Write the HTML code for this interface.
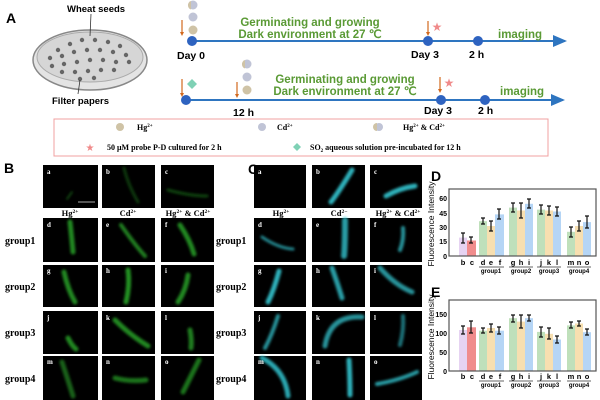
<!DOCTYPE html>
<html><head><meta charset="utf-8"><style>
html,body{margin:0;padding:0;background:#fff}
svg{display:block}
.s{font-family:"Liberation Sans",sans-serif;font-weight:bold}
.r{font-family:"Liberation Serif",serif;font-weight:bold}
.g{fill:#5a9a35;font-family:"Liberation Sans",sans-serif;font-weight:bold;font-size:11.5px}
</style></head><body>
<svg width="600" height="400" viewBox="0 0 600 400" xmlns="http://www.w3.org/2000/svg">
<defs>
<filter id="bl"><feGaussianBlur stdDeviation="1.4"/></filter>
<marker id="ah" markerWidth="8" markerHeight="8" refX="6" refY="3" orient="auto"><path d="M0,0 L7,3 L0,6 z" fill="#2e75c0"/></marker>
</defs>
<!-- Panel A -->
<text x="6" y="23" class="s" font-size="14">A</text>
<text x="67" y="12" class="s" font-size="9.5">Wheat seeds</text>
<ellipse cx="90" cy="60" rx="57" ry="30" fill="#e4e4e4" stroke="#888" stroke-width="1.5"/>
<ellipse cx="90" cy="57" rx="53" ry="25" fill="#d6d6d6" stroke="#aaa" stroke-width="1"/>
<g fill="#666">
<circle cx="58" cy="50" r="2.2"/><circle cx="70" cy="44" r="2.2"/><circle cx="82" cy="40" r="2.2"/><circle cx="95" cy="40" r="2.2"/><circle cx="108" cy="42" r="2.2"/><circle cx="120" cy="46" r="2.2"/>
<circle cx="50" cy="58" r="2.2"/><circle cx="62" cy="56" r="2.2"/><circle cx="74" cy="52" r="2.2"/><circle cx="87" cy="50" r="2.2"/><circle cx="100" cy="50" r="2.2"/><circle cx="113" cy="52" r="2.2"/><circle cx="126" cy="55" r="2.2"/>
<circle cx="52" cy="66" r="2.2"/><circle cx="64" cy="64" r="2.2"/><circle cx="77" cy="62" r="2.2"/><circle cx="90" cy="60" r="2.2"/><circle cx="103" cy="60" r="2.2"/><circle cx="116" cy="62" r="2.2"/><circle cx="129" cy="62" r="2.2"/>
<circle cx="62" cy="72" r="2.2"/><circle cx="75" cy="72" r="2.2"/><circle cx="88" cy="71" r="2.2"/><circle cx="101" cy="70" r="2.2"/><circle cx="114" cy="70" r="2.2"/>
<circle cx="80" cy="79" r="2.2"/><circle cx="94" cy="78" r="2.2"/>
</g>
<line x1="91" y1="14" x2="90" y2="36" stroke="#333" stroke-width="0.8"/>
<line x1="80" y1="80" x2="78" y2="94" stroke="#333" stroke-width="0.8"/>
<text x="52" y="104" class="s" font-size="9.5">Filter papers</text>

<!-- timeline 1 -->
<line x1="190" y1="41" x2="565" y2="41" stroke="#2e75c0" stroke-width="2" marker-end="url(#ah)"/>
<circle cx="192" cy="41" r="5" fill="#2e63c0"/><circle cx="428" cy="41" r="5" fill="#2e63c0"/><circle cx="478" cy="41" r="5" fill="#2e63c0"/>
<circle cx="193" cy="5" r="4.5" fill="#c0c4d6"/><path d="M191,1 A4.5,4.5 0 0 0 191,9.5z" fill="#cfc3a6"/>
<circle cx="193" cy="17" r="4.5" fill="#c0c4d6"/><circle cx="193" cy="30" r="4.5" fill="#cfc3a6"/>
<line x1="182" y1="20" x2="182" y2="34" stroke="#d2691e" stroke-width="1.2"/><path d="M180,32 L182,36 L184,32z" fill="#d2691e"/>
<text x="310" y="26" class="g" text-anchor="middle">Germinating and growing</text>
<text x="310" y="38" class="g" text-anchor="middle">Dark environment at 27 ℃</text>
<text x="177" y="59" class="s" font-size="10.5">Day 0</text>
<line x1="428" y1="21" x2="428" y2="34" stroke="#d2691e" stroke-width="1.2"/><path d="M426,32 L428,36 L430,32z" fill="#d2691e"/>
<text x="437" y="31" fill="#f08a8a" font-size="12" text-anchor="middle">★</text>
<text x="411" y="58" class="s" font-size="10.5">Day 3</text>
<text x="469" y="58" class="s" font-size="10.5">2 h</text>
<text x="498" y="38" class="g">imaging</text>

<!-- timeline 2 -->
<line x1="184" y1="100" x2="563" y2="100" stroke="#2e75c0" stroke-width="2" marker-end="url(#ah)"/>
<circle cx="186" cy="100" r="5" fill="#2e63c0"/><circle cx="441" cy="100" r="5" fill="#2e63c0"/><circle cx="485" cy="100" r="5" fill="#2e63c0"/>
<line x1="182" y1="79" x2="182" y2="95" stroke="#d2691e" stroke-width="1.2"/><path d="M180,93 L182,97 L184,93z" fill="#d2691e"/>
<path d="M192,79 L197,84 L192,89 L187,84z" fill="#7fd1b5"/>
<circle cx="247" cy="64" r="4.5" fill="#c0c4d6"/><path d="M245,60 A4.5,4.5 0 0 0 245,68.5z" fill="#cfc3a6"/><circle cx="247" cy="77" r="4.5" fill="#c0c4d6"/><circle cx="247" cy="90" r="4.5" fill="#cfc3a6"/>
<line x1="237" y1="82" x2="237" y2="96" stroke="#d2691e" stroke-width="1.2"/><path d="M235,94 L237,98 L239,94z" fill="#d2691e"/>
<text x="345" y="83" class="g" text-anchor="middle">Germinating and growing</text>
<text x="345" y="95" class="g" text-anchor="middle">Dark environment at 27 ℃</text>
<text x="233" y="116" class="s" font-size="10.5">12 h</text>
<line x1="440" y1="77" x2="440" y2="91" stroke="#d2691e" stroke-width="1.2"/><path d="M438,89 L440,93 L442,89z" fill="#d2691e"/>
<text x="449" y="87" fill="#f08a8a" font-size="12" text-anchor="middle">★</text>
<text x="424" y="114" class="s" font-size="10.5">Day 3</text>
<text x="478" y="114" class="s" font-size="10.5">2 h</text>
<text x="500" y="95" class="g">imaging</text>

<!-- legend -->
<rect x="54" y="119" width="494" height="37" fill="#fff" stroke="#f0a0a0" stroke-width="1"/>
<circle cx="120" cy="127" r="4" fill="#cfc3a6"/><text x="137" y="130" class="r" font-size="8">Hg<tspan font-size="5" dy="-3">2+</tspan></text>
<circle cx="262" cy="127" r="4" fill="#c0c4d6"/><text x="277" y="130" class="r" font-size="8">Cd<tspan font-size="5" dy="-3">2+</tspan></text>
<circle cx="379" cy="127" r="4" fill="#c0c4d6"/><path d="M377,123 A4,4 0 0 0 377,131z" fill="#cfc3a6"/><text x="403" y="130" class="r" font-size="8">Hg<tspan font-size="5" dy="-3">2+</tspan><tspan dy="3"> &amp; Cd</tspan><tspan font-size="5" dy="-3">2+</tspan></text>
<text x="90" y="151" fill="#f08a8a" font-size="10" text-anchor="middle">★</text>
<text x="107" y="150" class="r" font-size="8">50 μM probe P-D cultured for 2 h</text>
<path d="M297,143 L301,147 L297,151 L293,147z" fill="#7fd1b5"/>
<text x="310" y="150" class="r" font-size="8">SO<tspan font-size="5" dy="2">2</tspan><tspan dy="-2"> aqueous solution pre-incubated for 12 h</tspan></text>

<!-- B / C labels -->
<text x="4" y="173" class="s" font-size="14">B</text>
<text x="248" y="174" class="s" font-size="14">C</text>

<!-- tiles -->
<g fill="#000">
<rect x="43" y="165" width="55" height="43"/><rect x="102" y="165" width="53" height="43"/><rect x="161" y="165" width="53" height="43"/>
<rect x="43" y="218" width="55" height="44"/><rect x="102" y="218" width="53" height="44"/><rect x="161" y="218" width="53" height="44"/>
<rect x="43" y="265" width="55" height="42"/><rect x="102" y="265" width="53" height="42"/><rect x="161" y="265" width="53" height="42"/>
<rect x="43" y="311" width="55" height="43"/><rect x="102" y="311" width="53" height="43"/><rect x="161" y="311" width="53" height="43"/>
<rect x="43" y="356" width="55" height="44"/><rect x="102" y="356" width="53" height="44"/><rect x="161" y="356" width="53" height="44"/>
<rect x="254" y="165" width="52" height="43"/><rect x="312" y="165" width="53" height="43"/><rect x="370" y="165" width="52" height="43"/>
<rect x="254" y="218" width="52" height="44"/><rect x="312" y="218" width="53" height="44"/><rect x="370" y="218" width="52" height="44"/>
<rect x="254" y="265" width="52" height="42"/><rect x="312" y="265" width="53" height="42"/><rect x="370" y="265" width="52" height="42"/>
<rect x="254" y="311" width="52" height="43"/><rect x="312" y="311" width="53" height="43"/><rect x="370" y="311" width="52" height="43"/>
<rect x="254" y="356" width="52" height="44"/><rect x="312" y="356" width="53" height="44"/><rect x="370" y="356" width="52" height="44"/>
</g>
<!-- green worms -->
<g stroke="#2fc02f" fill="none" stroke-linecap="round" filter="url(#bl)">
<path d="M67,199 L72,192" stroke-width="1.5" opacity=".5"/>
<path d="M124,168 Q128,185 138,202" stroke-width="3" opacity=".3"/>
<path d="M168,190 Q190,196 207,196" stroke-width="3" opacity=".35"/>
<path d="M70,222 Q72,240 73,252" stroke-width="5" opacity=".7"/>
<path d="M121,225 Q135,245 145,256" stroke-width="4" opacity=".65"/>
<path d="M180,225 Q190,240 194,254" stroke-width="5" opacity=".7"/>
<path d="M64,272 Q68,290 75,302" stroke-width="5" opacity=".7"/>
<path d="M128,270 Q130,285 126,302" stroke-width="5" opacity=".75"/>
<path d="M188,275 Q186,290 178,302" stroke-width="5" opacity=".7"/>
<path d="M68,338 Q72,346 76,349" stroke-width="5" opacity=".7"/>
<path d="M115,320 Q130,335 148,346" stroke-width="5" opacity=".7"/>
<path d="M190,330 Q192,340 191,348" stroke-width="5" opacity=".65"/>
<path d="M62,362 Q68,380 73,396" stroke-width="5" opacity=".5"/>
<path d="M115,378 Q130,382 146,380" stroke-width="5" opacity=".6"/>
<path d="M199,360 Q190,378 183,392" stroke-width="5" opacity=".6"/>
</g>
<line x1="78" y1="202" x2="95" y2="202" stroke="#aaa" stroke-width="1"/>
<!-- cyan worms -->
<g stroke="#36d0dc" fill="none" stroke-linecap="round" filter="url(#bl)">
<path d="M352,170 Q340,190 331,202" stroke-width="5" opacity=".85"/>
<path d="M386,196 Q400,188 415,186" stroke-width="5" opacity=".85"/>
<path d="M262,237 Q278,248 293,249" stroke-width="3" opacity=".65"/>
<path d="M345,220 Q345,245 344,256" stroke-width="6" opacity=".75"/>
<path d="M403,228 Q404,240 400,250" stroke-width="4" opacity=".7"/>
<path d="M279,271 Q274,290 268,302" stroke-width="5" opacity=".85"/>
<path d="M332,268 Q338,285 342,298" stroke-width="5" opacity=".75"/>
<path d="M380,268 Q395,285 412,292" stroke-width="5" opacity=".7"/>
<path d="M278,316 Q272,335 265,348" stroke-width="4" opacity=".7"/>
<path d="M325,346 Q330,315 362,317" stroke-width="5" opacity=".7"/>
<path d="M403,316 Q404,330 400,345" stroke-width="4" opacity=".55"/>
<path d="M262,358 Q285,370 288,396" stroke-width="5" opacity=".8"/>
<path d="M349,360 Q350,380 350,395" stroke-width="5" opacity=".85"/>
<path d="M377,384 Q400,380 417,372" stroke-width="4" opacity=".75"/>
</g>
<!-- tile letters -->
<g class="r" font-size="7" fill="#fff">
<text x="47" y="174">a</text><text x="106" y="174">b</text><text x="165" y="174">c</text>
<text x="47" y="227">d</text><text x="106" y="227">e</text><text x="165" y="227">f</text>
<text x="47" y="273">g</text><text x="106" y="273">h</text><text x="165" y="273">i</text>
<text x="47" y="320">j</text><text x="106" y="320">k</text><text x="165" y="320">l</text>
<text x="47" y="364">m</text><text x="106" y="364">n</text><text x="165" y="364">o</text>
<text x="258" y="174">a</text><text x="316" y="174">b</text><text x="374" y="174">c</text>
<text x="258" y="227">d</text><text x="316" y="227">e</text><text x="374" y="227">f</text>
<text x="258" y="273">g</text><text x="316" y="273">h</text><text x="374" y="273">i</text>
<text x="258" y="320">j</text><text x="316" y="320">k</text><text x="374" y="320">l</text>
<text x="258" y="364">m</text><text x="316" y="364">n</text><text x="374" y="364">o</text>
</g>
<!-- column labels -->
<g class="r" font-size="8.5" text-anchor="middle">
<text x="70" y="216">Hg<tspan font-size="5.5" dy="-3">2+</tspan></text>
<text x="128" y="216">Cd<tspan font-size="5.5" dy="-3">2+</tspan></text>
<text x="188" y="216">Hg<tspan font-size="5.5" dy="-3">2+</tspan><tspan dy="3"> &amp; Cd</tspan><tspan font-size="5.5" dy="-3">2+</tspan></text>
<text x="281" y="216">Hg<tspan font-size="5.5" dy="-3">2+</tspan></text>
<text x="339" y="216">Cd<tspan font-size="5.5" dy="-3">2−</tspan></text>
<text x="398" y="216">Hg<tspan font-size="5.5" dy="-3">2+</tspan><tspan dy="3"> &amp; Cd</tspan><tspan font-size="5.5" dy="-3">2+</tspan></text>
</g>
<g class="r" font-size="10">
<text x="5" y="244">group1</text><text x="5" y="290">group2</text><text x="5" y="336">group3</text><text x="5" y="382">group4</text>
<text x="216" y="244">group1</text><text x="216" y="290">group2</text><text x="216" y="336">group3</text><text x="216" y="382">group4</text>
</g>

<!-- D chart -->
<text x="431" y="181" class="s" font-size="14">D</text>
<text transform="translate(434,224) rotate(-90)" text-anchor="middle" font-family="Liberation Sans,sans-serif" font-size="8.5">Fluorescence Intensity</text>
<g>
<rect x="459" y="237.6" width="8" height="18.4" fill="#e6d3f2"/>
<rect x="467" y="240.5" width="9" height="15.5" fill="#f08c8c"/>
<rect x="479" y="221.2" width="8" height="34.8" fill="#bfe0bb"/>
<rect x="487" y="226" width="8" height="30" fill="#f7dfb0"/>
<rect x="495" y="214.4" width="9" height="41.6" fill="#b5d5f5"/>
<rect x="509" y="207.6" width="8" height="48.4" fill="#bfe0bb"/>
<rect x="517" y="210.5" width="8" height="45.5" fill="#f7dfb0"/>
<rect x="525" y="203.8" width="8" height="52.2" fill="#b5d5f5"/>
<rect x="537" y="209.6" width="8" height="46.4" fill="#bfe0bb"/>
<rect x="545" y="210.5" width="8" height="45.5" fill="#f7dfb0"/>
<rect x="553" y="211.5" width="8" height="44.5" fill="#b5d5f5"/>
<rect x="567" y="231.8" width="8" height="24.2" fill="#bfe0bb"/>
<rect x="575" y="226" width="8" height="30" fill="#f7dfb0"/>
<rect x="583" y="222.1" width="8" height="33.9" fill="#b5d5f5"/>
</g>
<g stroke="#111" stroke-width="1.2" fill="none">
<path d="M463,233v10M461,233h4M461,243h4"/><path d="M471,237v6M469,237h4M469,243h4"/>
<path d="M483,218v6M481,218h4M481,224h4"/><path d="M491,221v10M489,221h4M489,231h4"/>
<path d="M499,209v10M497,209h4M497,219h4"/><path d="M513,203v9M511,203h4M511,212h4"/>
<path d="M521,203v15M519,203h4M519,218h4"/><path d="M529,199v9M527,199h4M527,208h4"/>
<path d="M541,205v9M539,205h4M539,214h4"/><path d="M549,206v9M547,206h4M547,215h4"/>
<path d="M557,207v9M555,207h4M555,216h4"/><path d="M571,227v10M569,227h4M569,237h4"/>
<path d="M579,221v10M577,221h4M577,231h4"/><path d="M587,216v12M585,216h4M585,228h4"/>
</g>
<rect x="449" y="189" width="147" height="67" fill="none" stroke="#555" stroke-width="1.2"/>
<g font-family="Liberation Sans,sans-serif" font-weight="bold" font-size="7" text-anchor="end">
<text x="447" y="201">60</text><text x="447" y="216">45</text><text x="447" y="230">30</text><text x="447" y="244">15</text><text x="447" y="259">0</text>
</g>
<g font-family="Liberation Sans,sans-serif" font-weight="bold" font-size="7.5" text-anchor="middle">
<text x="463" y="265">b</text><text x="472" y="265">c</text><text x="483" y="265">d</text><text x="491" y="265">e</text><text x="500" y="265">f</text>
<text x="513" y="265">g</text><text x="521" y="265">h</text><text x="529" y="265">i</text>
<text x="541" y="265">j</text><text x="549" y="265">k</text><text x="557" y="265">l</text>
<text x="571" y="265">m</text><text x="579" y="265">n</text><text x="587" y="265">o</text>
</g>
<g font-family="Liberation Sans,sans-serif" font-size="6" text-anchor="middle" font-weight="bold">
<text x="491" y="273">group1</text><text x="521" y="273">group2</text><text x="549" y="273">group3</text><text x="579" y="273">group4</text>
</g>
<g stroke="#333" stroke-width=".8"><path d="M479,267h25M509,267h24M537,267h24M567,267h24"/></g>

<!-- E chart -->
<text x="431" y="297" class="s" font-size="14">E</text>
<text transform="translate(434,337) rotate(-90)" text-anchor="middle" font-family="Liberation Sans,sans-serif" font-size="8.5">Fluorescence Intensity</text>
<g>
<rect x="459" y="330" width="8" height="41" fill="#e6d3f2"/>
<rect x="467" y="327.3" width="9" height="43.7" fill="#f08c8c"/>
<rect x="479" y="330.7" width="8" height="40.3" fill="#bfe0bb"/>
<rect x="487" y="328" width="8" height="43" fill="#f7dfb0"/>
<rect x="495" y="330.7" width="9" height="40.3" fill="#b5d5f5"/>
<rect x="509" y="318.2" width="8" height="52.8" fill="#bfe0bb"/>
<rect x="517" y="321.6" width="8" height="49.4" fill="#f7dfb0"/>
<rect x="525" y="318.2" width="8" height="52.8" fill="#b5d5f5"/>
<rect x="537" y="331.9" width="8" height="39.1" fill="#bfe0bb"/>
<rect x="545" y="333.8" width="8" height="37.2" fill="#f7dfb0"/>
<rect x="553" y="339.5" width="8" height="31.5" fill="#b5d5f5"/>
<rect x="567" y="325.4" width="8" height="45.6" fill="#bfe0bb"/>
<rect x="575" y="323.5" width="8" height="47.5" fill="#f7dfb0"/>
<rect x="583" y="332.2" width="8" height="38.8" fill="#b5d5f5"/>
</g>
<g stroke="#111" stroke-width="1.2" fill="none">
<path d="M463,326v8M461,326h4M461,334h4"/><path d="M471,321v12M469,321h4M469,333h4"/>
<path d="M483,328v5M481,328h4M481,333h4"/><path d="M491,324v8M489,324h4M489,332h4"/>
<path d="M499,327v7M497,327h4M497,334h4"/><path d="M513,315v7M511,315h4M511,322h4"/>
<path d="M521,315v13M519,315h4M519,328h4"/><path d="M529,315v6M527,315h4M527,321h4"/>
<path d="M541,327v10M539,327h4M539,337h4"/><path d="M549,328v11M547,328h4M547,339h4"/>
<path d="M557,336v7M555,336h4M555,343h4"/><path d="M571,322v6M569,322h4M569,328h4"/>
<path d="M579,321v5M577,321h4M577,326h4"/><path d="M587,329v6M585,329h4M585,335h4"/>
</g>
<rect x="449" y="300" width="147" height="71" fill="none" stroke="#555" stroke-width="1.2"/>
<g font-family="Liberation Sans,sans-serif" font-weight="bold" font-size="7" text-anchor="end">
<text x="447" y="317">150</text><text x="447" y="336">100</text><text x="447" y="355">50</text><text x="447" y="374">0</text>
</g>
<g font-family="Liberation Sans,sans-serif" font-weight="bold" font-size="7.5" text-anchor="middle">
<text x="463" y="379">b</text><text x="472" y="379">c</text><text x="483" y="379">d</text><text x="491" y="379">e</text><text x="500" y="379">f</text>
<text x="513" y="379">g</text><text x="521" y="379">h</text><text x="529" y="379">i</text>
<text x="541" y="379">j</text><text x="549" y="379">k</text><text x="557" y="379">l</text>
<text x="571" y="379">m</text><text x="579" y="379">n</text><text x="587" y="379">o</text>
</g>
<g font-family="Liberation Sans,sans-serif" font-size="6" text-anchor="middle" font-weight="bold">
<text x="491" y="387">group1</text><text x="521" y="387">group2</text><text x="549" y="387">group3</text><text x="579" y="387">group4</text>
</g>
<g stroke="#333" stroke-width=".8"><path d="M479,381h25M509,381h24M537,381h24M567,381h24"/></g>
</svg>
</body></html>
